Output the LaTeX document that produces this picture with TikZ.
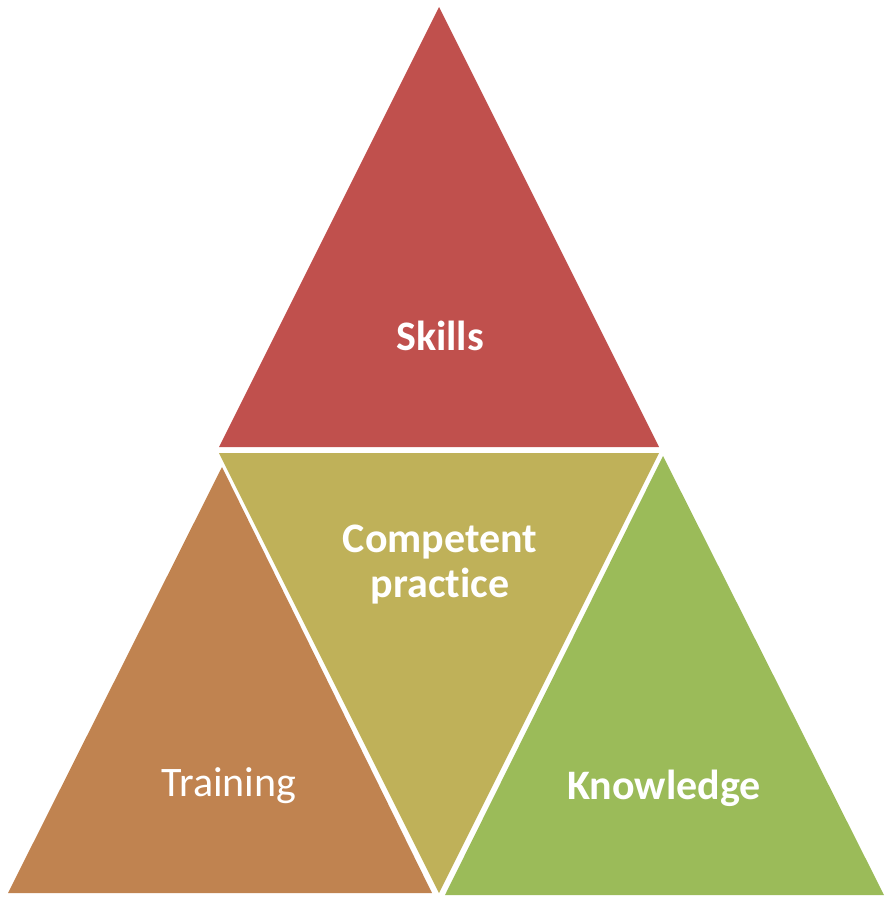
\documentclass[tikz,border=0pt]{standalone}
\usepackage{fontspec}
\setmainfont{Carlito}[Ligatures={NoCommon}]
\definecolor{cred}{RGB}{192,80,77}
\definecolor{colive}{RGB}{191,177,89}
\definecolor{cbrown}{RGB}{192,131,80}
\definecolor{cgreen}{RGB}{155,187,89}
\tikzset{lbl/.style={text=white,font=\fontsize{42}{45}\selectfont\bfseries,align=center}}
\begin{document}
\begin{tikzpicture}[x=1pt,y=-1pt]
\useasboundingbox (0,0) rectangle (888,898);
\fill[cred] (439,7) -- (659,447) -- (219,447) -- cycle;
\fill[colive] (219,453) -- (659,453) -- (439,893) -- cycle;
\fill[cbrown] (222,467) -- (432,893) -- (8,893) -- cycle;
\fill[cgreen] (663,456) -- (884,895) -- (445,895) -- cycle;
\node[lbl] (skills) at (440,336) {Skills};
\node[lbl] (comp) at (440,565) {Competent\\practice};
\node[lbl,font=\fontsize{42}{45}\selectfont] (train) at (229,786) {Training};
\node[lbl] (know) at (664,788) {Knowledge};
\end{tikzpicture}
\end{document}
